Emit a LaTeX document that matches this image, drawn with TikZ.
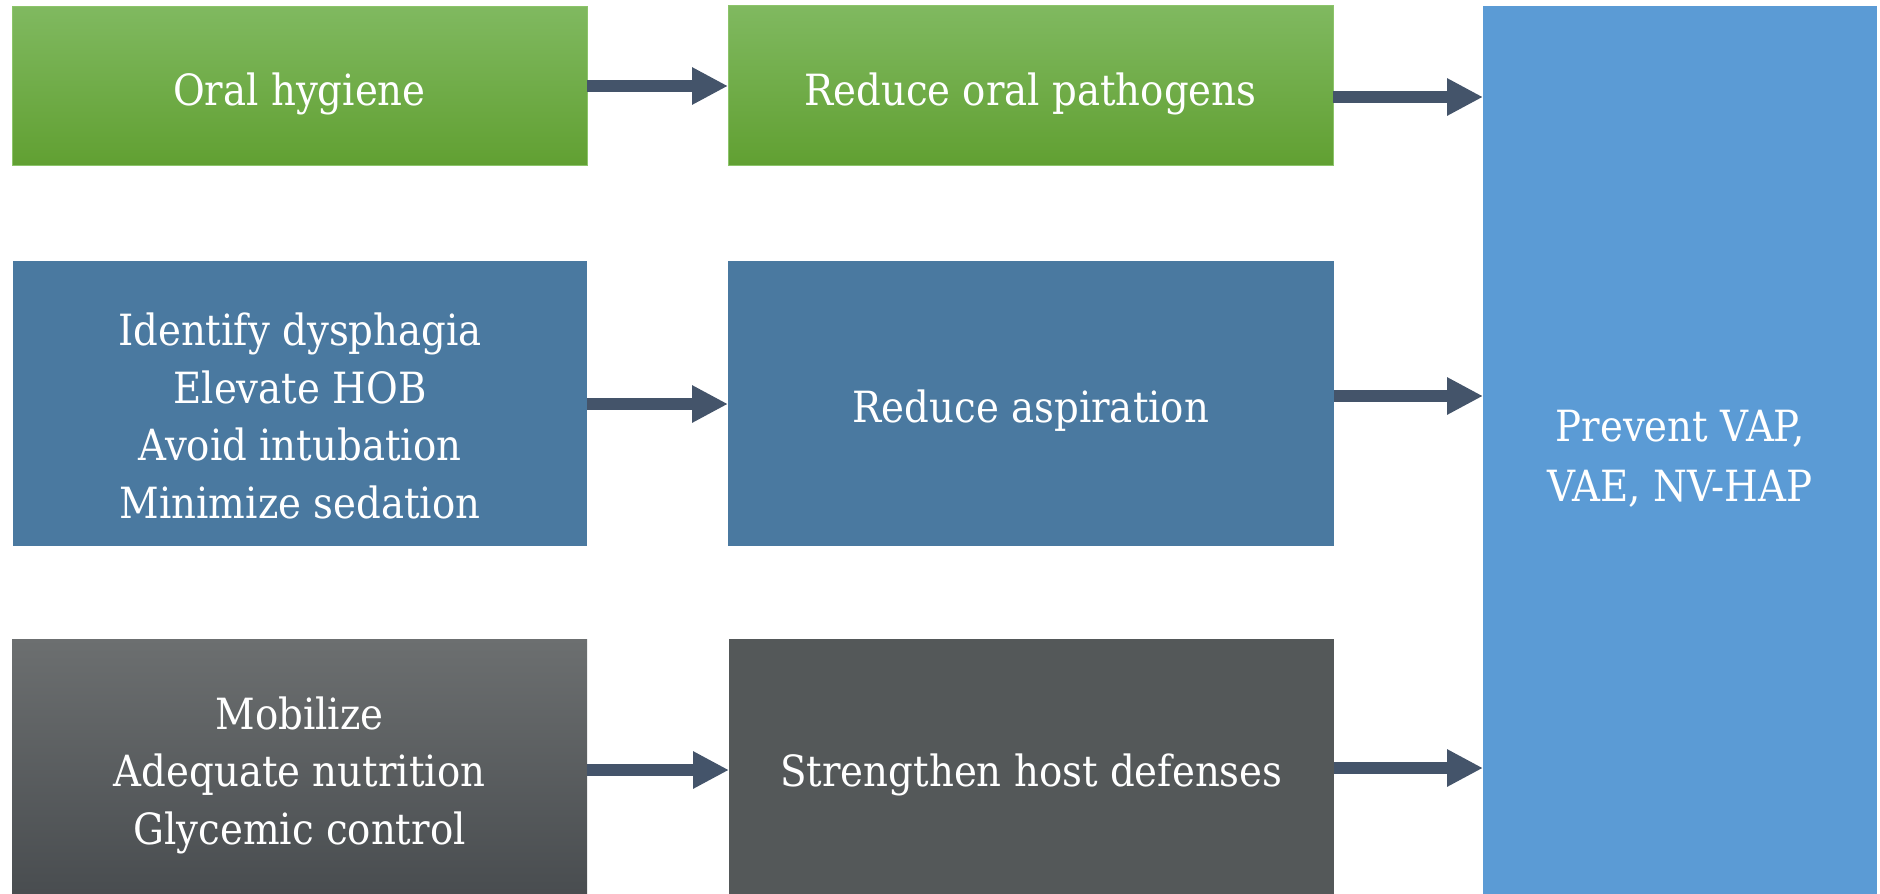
\documentclass[tikz,border=0pt]{standalone}
\usepackage{fontspec}
\setmainfont[FakeStretch=0.9]{DejaVu Serif}
\usetikzlibrary{arrows.meta}

\definecolor{greenTop}{RGB}{128,185,96}
\definecolor{greenBot}{RGB}{97,160,50}
\definecolor{greenEdge}{RGB}{140,196,106}
\definecolor{steel}{RGB}{74,121,160}
\definecolor{grayTop}{RGB}{108,111,112}
\definecolor{grayBot}{RGB}{72,76,79}
\definecolor{graySolid}{RGB}{84,88,89}
\definecolor{sky}{RGB}{91,155,213}
\definecolor{arrowc}{RGB}{68,84,106}

\begin{document}
\begin{tikzpicture}[x=1pt,y=-1pt,
  box/.style={inner sep=0pt, outer sep=0pt},
  label/.style={text=white, align=center, font=\fontsize{43}{57.5}\selectfont},
  greenbox/.style={box, draw=greenEdge, line width=0.8pt, top color=greenTop, bottom color=greenBot},
  steelbox/.style={box, fill=steel},
  graygrad/.style={box, top color=grayTop, bottom color=grayBot},
  graybox/.style={box, fill=graySolid},
  goalbox/.style={box, fill=sky},
  flow/.style={draw=arrowc, line width=12pt, -{Triangle[length=36pt,width=35pt]}}]

\useasboundingbox (0,0) rectangle (1880,894);

% row 1: oral care
\node[greenbox, minimum width=575pt, minimum height=159pt] (hyg) at (299.5,85.5) {};
\node[greenbox, minimum width=605pt, minimum height=160pt] (path) at (1030.5,85) {};
\node[label] at (299.5,94) {Oral hygiene};
\node[label] at (1030.5,94) {Reduce oral pathogens};

% row 2: aspiration
\node[steelbox, minimum width=574pt, minimum height=285pt] (asp) at (300,403.5) {};
\node[steelbox, minimum width=606pt, minimum height=285pt] (red) at (1031,403.5) {};
\node[label] at (300,416)
  {Identify dysphagia\\Elevate HOB\\Avoid intubation\\Minimize sedation};
\node[label] at (1031,411) {Reduce aspiration};

% row 3: host defenses
\node[graygrad, minimum width=575pt, minimum height=261pt] (mob) at (299.5,769.5) {};
\node[graybox, minimum width=605pt, minimum height=261pt] (host) at (1031.5,769.5) {};
\node[label] at (299.5,775)
  {Mobilize\\Adequate nutrition\\Glycemic control};
\node[label] at (1031.5,775) {Strengthen host defenses};

% outcome
\node[goalbox, minimum width=394pt, minimum height=894pt] (goal) at (1680,453) {};
\node[label, font=\fontsize{43}{60}\selectfont] at (1680,459)
  {Prevent VAP,\\VAE, NV-HAP};

% connectors
\draw[flow] (hyg.east |- 0,86) -- (path.west |- 0,86);
\draw[flow] (path.east |- 0,97) -- (goal.west |- 0,97);
\draw[flow] (asp.east |- 0,404) -- (red.west |- 0,404);
\draw[flow] (red.east |- 0,396) -- (goal.west |- 0,396);
\draw[flow] (mob.east |- 0,770) -- (host.west |- 0,770);
\draw[flow] (host.east |- 0,768) -- (goal.west |- 0,768);
\end{tikzpicture}
\end{document}
